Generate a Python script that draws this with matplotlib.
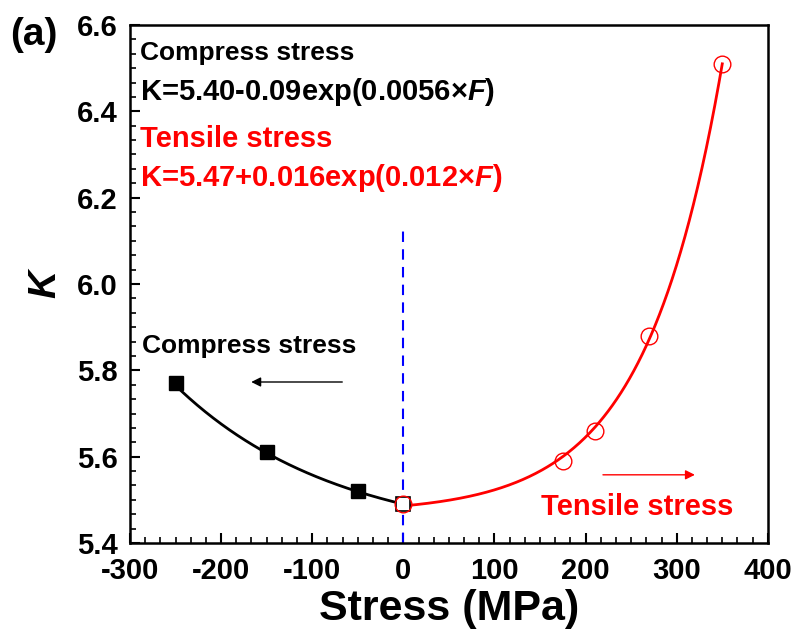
import numpy as np
import matplotlib
matplotlib.use("Agg")
import matplotlib.pyplot as plt
from matplotlib.ticker import AutoMinorLocator

plt.rcParams['font.family'] = ['Liberation Sans', 'DejaVu Sans']
plt.rcParams['font.weight'] = 'bold'
plt.rcParams['axes.unicode_minus'] = False
plt.rcParams['mathtext.fontset'] = 'custom'
plt.rcParams['mathtext.it'] = 'Liberation Sans:italic:bold'
plt.rcParams['mathtext.bf'] = 'Liberation Sans:bold'
plt.rcParams['mathtext.rm'] = 'Liberation Sans:bold'

# Data
compress_x = [-250, -150, -50]
compress_k = [5.77, 5.61, 5.52]
zero_x = [0]
zero_k = [5.49]
tensile_x = [0, 175, 210, 270, 350]
tensile_k = [5.49, 5.59, 5.66, 5.88, 6.51]

# Fit parameters (from the equations shown)
c_a, c_b, c_c = 5.40, 0.09, 0.0056
t_a, t_b, t_c = 5.47, 0.016, 0.012

xticks = [-300, -200, -100, 0, 100, 200, 300, 400]
yticks = [5.4, 5.6, 5.8, 6.0, 6.2, 6.4, 6.6]

fig = plt.figure(figsize=(7.99, 6.44), dpi=100)
ax = fig.add_axes([0.1627, 0.1568, 0.7983, 0.8044])

xc = np.linspace(-250, 0, 200)
ax.plot(xc, c_a + c_b * np.exp(-c_c * xc), color='black', lw=2, zorder=3)
xt = np.linspace(0, 350, 300)
yt = t_a + t_b * np.exp(t_c * xt)
yt = yt - (yt[-1] - tensile_k[-1]) * (xt / 350) ** 6
ax.plot(xt, yt, color='red', lw=2, zorder=3)

ax.plot([0, 0], [5.4, 6.13], color='blue', lw=1.5, ls=(0, (5, 3.5)), zorder=2)

ax.plot(compress_x, compress_k, 's', color='black', ms=10, zorder=4)
ax.plot(zero_x, zero_k, 's', mfc='white', mec='black', ms=10, mew=1.2, zorder=4)
ax.plot(tensile_x, tensile_k, 'o', mfc='none', mec='red', ms=12, mew=1, zorder=5)

ax.set_xlim(-300, 400)
ax.set_ylim(5.4, 6.6)
ax.set_xticks(xticks)
ax.set_xticklabels([str(v) for v in xticks])
ax.set_yticks(yticks)
ax.set_yticklabels([f"{v:.1f}" for v in yticks])
ax.xaxis.set_minor_locator(AutoMinorLocator(6))
ax.yaxis.set_minor_locator(AutoMinorLocator(6))
ax.tick_params(axis='x', which='major', pad=10)
ax.tick_params(axis='y', which='major', pad=9)
ax.tick_params(axis='both', which='major', direction='in', length=7, width=1.5,
               labelsize=21, top=False, right=False)
ax.tick_params(axis='both', which='minor', direction='in', length=4, width=1.2,
               top=False, right=False)
for lab in ax.get_xticklabels() + ax.get_yticklabels():
    lab.set_fontweight('bold')
for s in ax.spines.values():
    s.set_linewidth(1.8)

ax.set_xlabel('Stress (MPa)', fontsize=31, fontweight='bold', labelpad=3)
ax.set_ylabel('K', fontsize=28, fontweight='bold', style='italic', labelpad=10)

tr = ax.transAxes
ax.text(0.016, 0.932, 'Compress stress', transform=tr, fontsize=19, fontweight='bold', color='black')
ax.text(0.016, 0.855, 'K=5.40-0.09exp(0.0056×$\\mathit{F}$)', transform=tr,
        fontsize=21, fontweight='bold', color='black')
ax.text(0.016, 0.764, 'Tensile stress', transform=tr, fontsize=21, fontweight='bold', color='red')
ax.text(0.016, 0.689, 'K=5.47+0.016exp(0.012×$\\mathit{F}$)', transform=tr,
        fontsize=21, fontweight='bold', color='red')
ax.text(0.019, 0.367, 'Compress stress', transform=tr, fontsize=19, fontweight='bold', color='black')
ax.text(151, 5.465, 'Tensile stress', fontsize=21, fontweight='bold', color='red')

ax.annotate('', xy=(-170, 5.773), xytext=(-64, 5.773),
            arrowprops=dict(arrowstyle='-|>', color='black', lw=1, mutation_scale=14))
ax.annotate('', xy=(323, 5.558), xytext=(216, 5.558),
            arrowprops=dict(arrowstyle='-|>', color='red', lw=1, mutation_scale=14))

fig.text(10 / 799, 1 - 45 / 644, '(a)', fontsize=28, fontweight='bold')

fig.savefig('out.png', dpi=100)
